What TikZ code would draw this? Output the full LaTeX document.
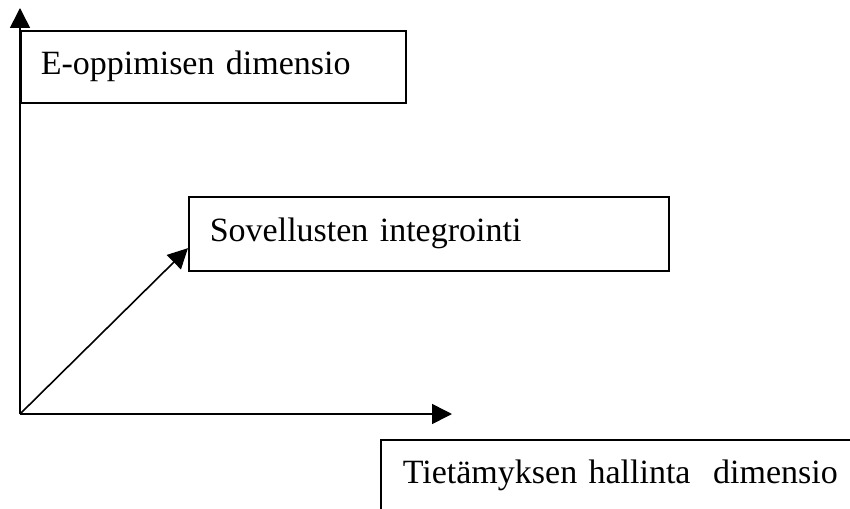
\documentclass[tikz,border=0pt]{standalone}
\usepackage{fontspec}
\setmainfont{Liberation Serif}
\usetikzlibrary{arrows.meta,calc}
\begin{document}
\begin{tikzpicture}[x=1pt,y=-1pt,
  line width=1.6pt,
  label box/.style={draw, line width=1.6pt, rectangle, anchor=north west,
    align=left, inner ysep=0pt, font=\fontsize{34}{40}\selectfont},
  axis arrow/.style={-{Triangle[length=20pt,width=20pt]}}]
  \clip (0,0) rectangle (850,508);
  \fill[white] (0,0) rectangle (850,508);

  % origin of the three dimensions
  \coordinate (o) at (20,414);
  \coordinate (ytip) at (20,8);
  \coordinate (xtip) at (452,414);

  % dimension labels
  \node[label box, inner xsep=20pt, text width=345pt, minimum height=72pt]
    (edim) at (20,30) {E-oppimisen dimensio};
  \node[label box, inner xsep=21pt, text width=438pt, minimum height=74pt]
    (integ) at (188,196) {Sovellusten integrointi};
  \node[label box, inner xsep=22pt, text width=600pt, minimum height=88pt,
    text depth=24pt]
    (tdim) at (380,439) {Tietämyksen hallinta\ \ dimensio};

  % axes
  \draw[axis arrow] (o) -- (ytip);
  \draw[axis arrow] (o) -- (xtip);
  \draw[axis arrow] (o) -- ($(integ.south west)!0.31!(integ.north west)$);
\end{tikzpicture}
\end{document}
